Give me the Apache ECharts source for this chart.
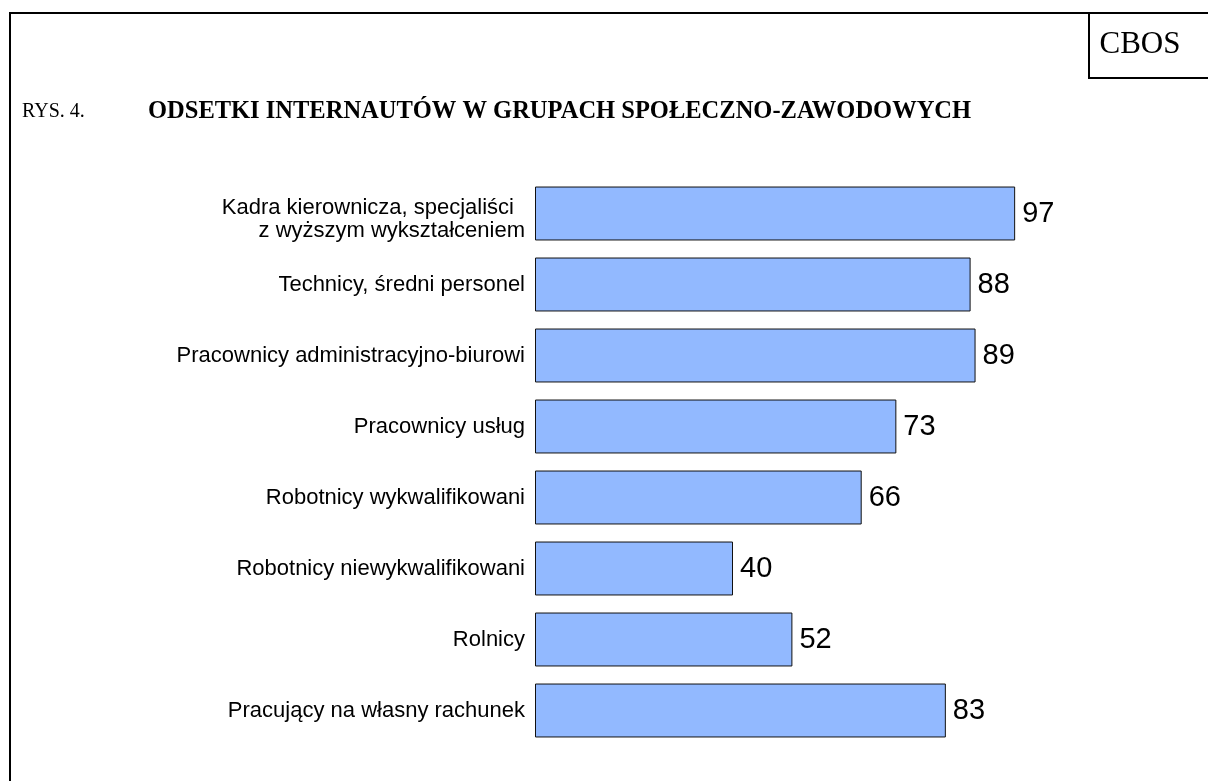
<!DOCTYPE html>
<html>
<head>
<meta charset="utf-8">
<script src="https://cdn.jsdelivr.net/npm/echarts@6/dist/echarts.min.js"></script>
<style>
    html, body { margin: 0; padding: 0; background: #fff; }
    #chart { width: 1208px; height: 781px; }
</style>
</head>
<body>
<div id="chart"></div>
<script>
    // grupy społeczno-zawodowe, od góry
    const categories = [
        'Kadra kierownicza, specjaliści\nz wyższym wykształceniem',
        'Technicy, średni personel',
        'Pracownicy administracyjno-biurowi',
        'Pracownicy usług',
        'Robotnicy wykwalifikowani',
        'Robotnicy niewykwalifikowani',
        'Rolnicy',
        'Pracujący na własny rachunek'
    ]
    const values = [97, 88, 89, 73, 66, 40, 52, 83]

    const labelFont = 'Liberation Sans, Arial, sans-serif'
    const serifFont = 'Liberation Serif, Times New Roman, serif'

    const myChart = echarts.init(document.getElementById('chart'))
    const option = {
        backgroundColor: '#fff',
        animation: false,
        grid: {
            left: 535,
            right: 178,
            top: 178,
            bottom: 35
        },
        xAxis: {
            type: 'value',
            min: 0,
            max: 100,
            show: false
        },
        yAxis: {
            type: 'category',
            data: categories,
            inverse: true,
            axisLine: { show: false },
            axisTick: { show: false },
            splitLine: { show: false },
            axisLabel: {
                margin: 10,
                color: '#000',
                fontFamily: labelFont,
                fontSize: 22,
                lineHeight: 24,
                align: 'right',
                formatter: (val) => {
                    const lines = val.split('\n')
                    if (lines.length === 1) return val
                    return '{a|' + lines[0] + '}\n{b|' + lines[1] + '}'
                },
                rich: {
                    a: { fontFamily: labelFont, fontSize: 22, color: '#000', lineHeight: 35, padding: [0, 11, 0, 0] },
                    b: { fontFamily: labelFont, fontSize: 22, color: '#000', lineHeight: 11 }
                }
            }
        },
        series: [{
            type: 'bar',
            data: values,
            barCategoryGap: '24%',
            itemStyle: {
                color: '#92b9ff',
                borderColor: '#111',
                borderWidth: 1
            },
            label: {
                show: true,
                position: 'right',
                distance: 7,
                color: '#000',
                fontFamily: labelFont,
                fontSize: 29
            }
        }],
        graphic: [
            // ramka
            {
                type: 'polyline',
                shape: { points: [[10, 781], [10, 13], [1208, 13]] },
                style: { stroke: '#000', lineWidth: 2, fill: null }
            },
            {
                type: 'polyline',
                shape: { points: [[1089, 13], [1089, 78], [1208, 78]] },
                style: { stroke: '#000', lineWidth: 2, fill: null }
            },
            {
                type: 'text',
                x: 1140,
                y: 45,
                style: {
                    text: 'CBOS',
                    fontFamily: serifFont,
                    fontSize: 31,
                    fill: '#000',
                    align: 'center',
                    verticalAlign: 'middle'
                }
            },
            {
                type: 'text',
                x: 22,
                y: 112,
                style: {
                    text: 'RYS. 4.',
                    fontFamily: serifFont,
                    fontSize: 20,
                    fill: '#000',
                    verticalAlign: 'middle'
                }
            },
            {
                type: 'text',
                x: 148,
                y: 112,
                style: {
                    text: 'ODSETKI INTERNAUTÓW W GRUPACH SPOŁECZNO-ZAWODOWYCH',
                    fontFamily: serifFont,
                    fontSize: 24.5,
                    fontWeight: 'bold',
                    fill: '#000',
                    verticalAlign: 'middle'
                }
            }
        ]
    }
    myChart.setOption(option)
</script>
</body>
</html>
